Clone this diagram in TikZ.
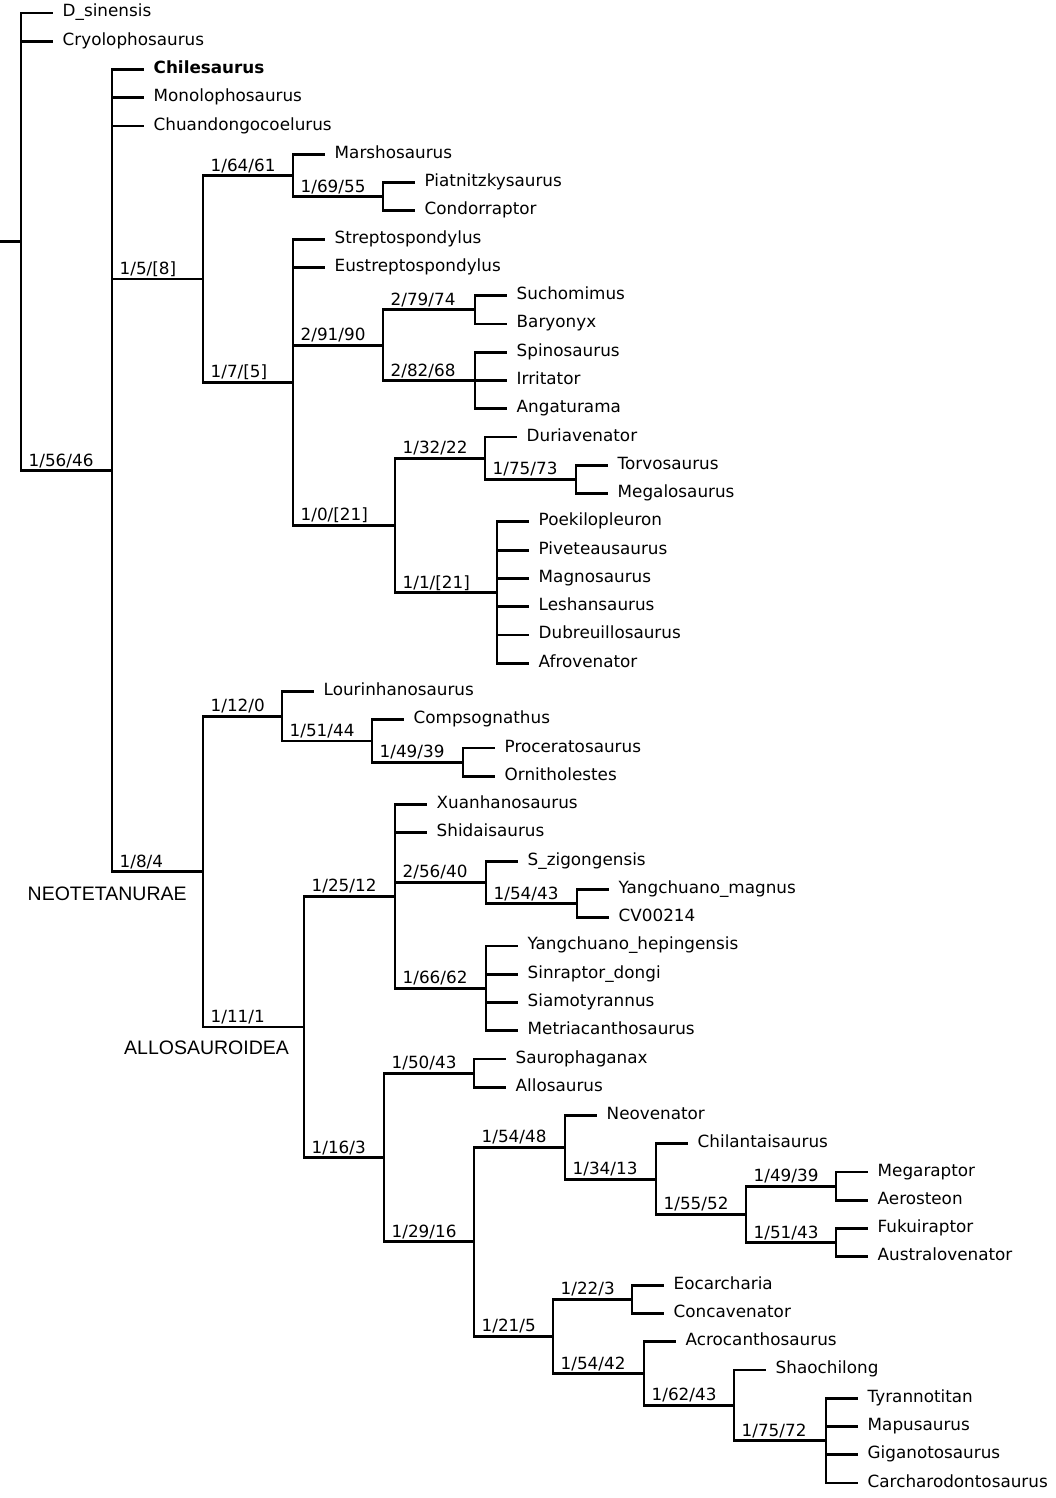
\documentclass[tikz,border=0pt]{standalone}
\usepackage{fontspec}
\setmainfont{DejaVu Sans}
\newfontfamily\arialfont{Liberation Sans}
\usetikzlibrary{calc}
\newcommand\yy[1]{13+28.27*#1}
\newcommand\inode[3]{\coordinate (#1) at ({#2},{\yy{#3}});}
\newcommand\myleaf[5]{%
  \coordinate (#1-t) at ({#3+32},{\yy{#4}});
  \node[leaf] (#1) at (#1-t) {#5};
  \draw[br] (#2) |- (#1-t);}
\newcommand\myclade[3]{%
  \draw[br] (#2) |- (#1);
  \node[lab] (#1-l) at (#2 |- #1) {#3};}
\begin{document}
\begin{tikzpicture}[x=1pt,y=-1pt,
  br/.style={line width=2.8pt, line join=miter},
  leaf/.style={anchor=base west, inner sep=0pt, xshift=9.5pt, yshift=-4pt, font=\fontsize{16.8pt}{20pt}\selectfont},
  lab/.style={anchor=base west, inner sep=0pt, xshift=7.5pt, yshift=4.5pt, font=\fontsize{16.8pt}{20pt}\selectfont},
  clname/.style={anchor=base west, inner sep=0pt, font=\arialfont\fontsize{19.5pt}{22pt}\selectfont}]
\useasboundingbox[fill=white] (0,0) rectangle (1055,1498);
% internal nodes
\inode{R}{21}{8.0927734}
\inode{N1}{112}{16.185547}
\inode{N2}{203}{9.40625}
\inode{N3}{293}{5.75}
\inode{N4}{383}{6.5}
\inode{N5}{293}{13.0625}
\inode{N6}{383}{11.75}
\inode{N7}{475}{10.5}
\inode{N8}{475}{13}
\inode{N9}{395}{18.125}
\inode{N10}{485}{15.75}
\inode{N11}{576}{16.5}
\inode{N12}{497}{20.5}
\inode{N20}{203}{30.371094}
\inode{N21}{282}{24.875}
\inode{N22}{372}{25.75}
\inode{N23}{463}{26.5}
\inode{N24}{304}{35.867188}
\inode{N25}{395}{31.25}
\inode{N26}{486}{30.75}
\inode{N27}{577}{31.5}
\inode{N28}{486}{34.5}
\inode{N30}{384}{40.484375}
\inode{N31}{474}{37.5}
\inode{N32}{474}{43.46875}
\inode{N33}{565}{40.125}
\inode{N34}{656}{41.25}
\inode{N35}{746}{42.5}
\inode{NA}{836}{41.5}
\inode{NB}{836}{43.5}
\inode{N38}{553}{46.8125}
\inode{N39}{632}{45.5}
\inode{N40}{644}{48.125}
\inode{N41}{734}{49.25}
\inode{N42}{826}{50.5}
% root stub
\coordinate (stub) at (0,{\yy{8.0927734}});
\draw[br] (stub) -- (R);
% clades
\myclade{N1}{R}{1/56/46}
\myclade{N2}{N1}{1/5/[8]}
\myclade{N3}{N2}{1/64/61}
\myclade{N4}{N3}{1/69/55}
\myclade{N5}{N2}{1/7/[5]}
\myclade{N6}{N5}{2/91/90}
\myclade{N7}{N6}{2/79/74}
\myclade{N8}{N6}{2/82/68}
\myclade{N9}{N5}{1/0/[21]}
\myclade{N10}{N9}{1/32/22}
\myclade{N11}{N10}{1/75/73}
\myclade{N12}{N9}{1/1/[21]}
\myclade{N20}{N1}{1/8/4}
\myclade{N21}{N20}{1/12/0}
\myclade{N22}{N21}{1/51/44}
\myclade{N23}{N22}{1/49/39}
\myclade{N24}{N20}{1/11/1}
\myclade{N25}{N24}{1/25/12}
\myclade{N26}{N25}{2/56/40}
\myclade{N27}{N26}{1/54/43}
\myclade{N28}{N25}{1/66/62}
\myclade{N30}{N24}{1/16/3}
\myclade{N31}{N30}{1/50/43}
\myclade{N32}{N30}{1/29/16}
\myclade{N33}{N32}{1/54/48}
\myclade{N34}{N33}{1/34/13}
\myclade{N35}{N34}{1/55/52}
\myclade{NA}{N35}{1/49/39}
\myclade{NB}{N35}{1/51/43}
\myclade{N38}{N32}{1/21/5}
\myclade{N39}{N38}{1/22/3}
\myclade{N40}{N38}{1/54/42}
\myclade{N41}{N40}{1/62/43}
\myclade{N42}{N41}{1/75/72}
% leaves
\myleaf{L0}{R}{21}{0}{D\_sinensis}
\myleaf{L1}{R}{21}{1}{Cryolophosaurus}
\myleaf{L2}{N1}{112}{2}{\bfseries Chilesaurus}
\myleaf{L3}{N1}{112}{3}{Monolophosaurus}
\myleaf{L4}{N1}{112}{4}{Chuandongocoelurus}
\myleaf{L5}{N3}{293}{5}{Marshosaurus}
\myleaf{L6}{N4}{383}{6}{Piatnitzkysaurus}
\myleaf{L7}{N4}{383}{7}{Condorraptor}
\myleaf{L8}{N5}{293}{8}{Streptospondylus}
\myleaf{L9}{N5}{293}{9}{Eustreptospondylus}
\myleaf{L10}{N7}{475}{10}{Suchomimus}
\myleaf{L11}{N7}{475}{11}{Baryonyx}
\myleaf{L12}{N8}{475}{12}{Spinosaurus}
\myleaf{L13}{N8}{475}{13}{Irritator}
\myleaf{L14}{N8}{475}{14}{Angaturama}
\myleaf{L15}{N10}{485}{15}{Duriavenator}
\myleaf{L16}{N11}{576}{16}{Torvosaurus}
\myleaf{L17}{N11}{576}{17}{Megalosaurus}
\myleaf{L18}{N12}{497}{18}{Poekilopleuron}
\myleaf{L19}{N12}{497}{19}{Piveteausaurus}
\myleaf{L20}{N12}{497}{20}{Magnosaurus}
\myleaf{L21}{N12}{497}{21}{Leshansaurus}
\myleaf{L22}{N12}{497}{22}{Dubreuillosaurus}
\myleaf{L23}{N12}{497}{23}{Afrovenator}
\myleaf{L24}{N21}{282}{24}{Lourinhanosaurus}
\myleaf{L25}{N22}{372}{25}{Compsognathus}
\myleaf{L26}{N23}{463}{26}{Proceratosaurus}
\myleaf{L27}{N23}{463}{27}{Ornitholestes}
\myleaf{L28}{N25}{395}{28}{Xuanhanosaurus}
\myleaf{L29}{N25}{395}{29}{Shidaisaurus}
\myleaf{L30}{N26}{486}{30}{S\_zigongensis}
\myleaf{L31}{N27}{577}{31}{Yangchuano\_magnus}
\myleaf{L32}{N27}{577}{32}{CV00214}
\myleaf{L33}{N28}{486}{33}{Yangchuano\_hepingensis}
\myleaf{L34}{N28}{486}{34}{Sinraptor\_dongi}
\myleaf{L35}{N28}{486}{35}{Siamotyrannus}
\myleaf{L36}{N28}{486}{36}{Metriacanthosaurus}
\myleaf{L37}{N31}{474}{37}{Saurophaganax}
\myleaf{L38}{N31}{474}{38}{Allosaurus}
\myleaf{L39}{N33}{565}{39}{Neovenator}
\myleaf{L40}{N34}{656}{40}{Chilantaisaurus}
\myleaf{L41}{NA}{836}{41}{Megaraptor}
\myleaf{L42}{NA}{836}{42}{Aerosteon}
\myleaf{L43}{NB}{836}{43}{Fukuiraptor}
\myleaf{L44}{NB}{836}{44}{Australovenator}
\myleaf{L45}{N39}{632}{45}{Eocarcharia}
\myleaf{L46}{N39}{632}{46}{Concavenator}
\myleaf{L47}{N40}{644}{47}{Acrocanthosaurus}
\myleaf{L48}{N41}{734}{48}{Shaochilong}
\myleaf{L49}{N42}{826}{49}{Tyrannotitan}
\myleaf{L50}{N42}{826}{50}{Mapusaurus}
\myleaf{L51}{N42}{826}{51}{Giganotosaurus}
\myleaf{L52}{N42}{826}{52}{Carcharodontosaurus}
% clade names
\node[clname] (neo) at (27.5,900.7) {NEOTETANURAE};
\node[clname] (allo) at (124,1054.3) {ALLOSAUROIDEA};
\end{tikzpicture}
\end{document}
